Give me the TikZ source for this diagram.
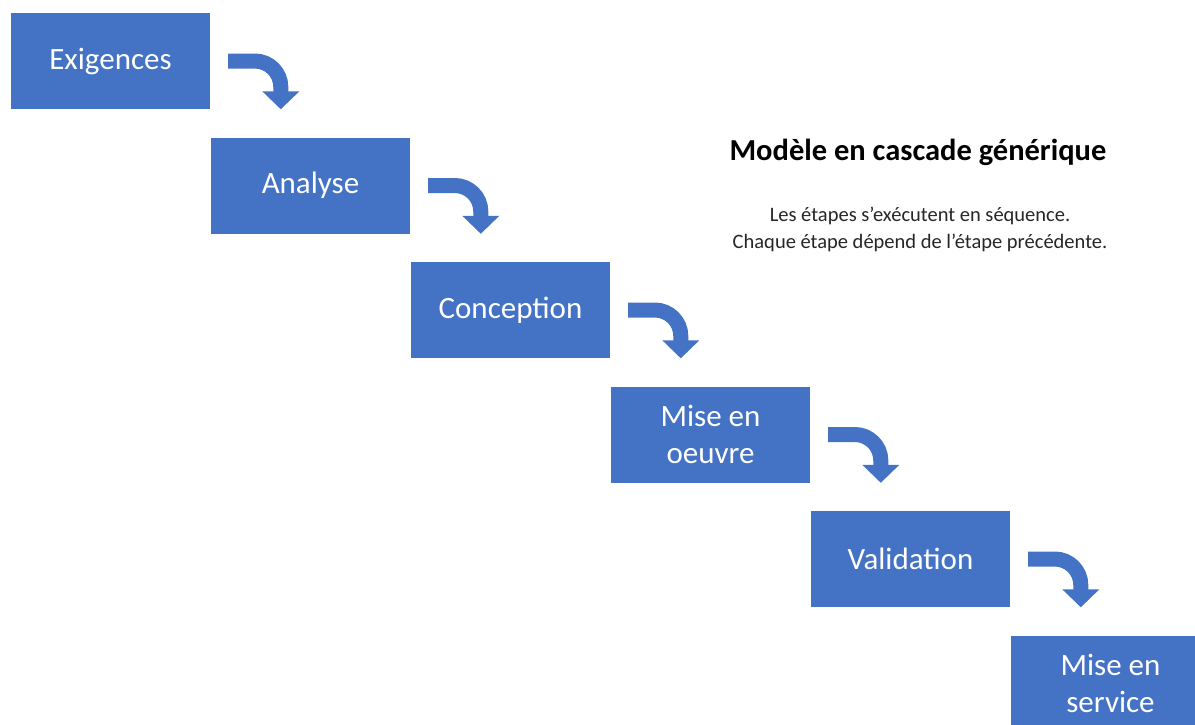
\documentclass[tikz,border=0pt]{standalone}
\usepackage{fontspec}
\setmainfont{Carlito}
\usetikzlibrary{arrows.meta}

\definecolor{stageblue}{HTML}{4472C4}
\tikzset{
  stage/.style={fill=stageblue,draw=none,minimum width=199,minimum height=96,inner sep=0pt,
    text=white,align=center,font=\fontsize{31}{37}\selectfont},
  flow/.style={draw=stageblue,line width=15pt,rounded corners=26pt,
    -{Triangle[width=36pt,length=18pt]}}
}

\begin{document}
\begin{tikzpicture}[x=1pt,y=-1pt]
\useasboundingbox (0,0) rectangle (1195,724);
\node[stage] (exig) at (110.5,61) {Exigences};
\node[stage] (anal) at (310.5,185.5) {Analyse};
\node[stage] (conc) at (510.5,310) {Conception};
\node[stage] (oeuv) at (710.5,434.5) {Mise en\\oeuvre};
\node[stage] (vali) at (910.5,559) {Validation};
\node[stage] (serv) at (1110.5,683.5) {Mise en\\service};
\draw[flow] ([xshift=18]exig.east) -| ([xshift=70,yshift=28]anal.north west);
\draw[flow] ([xshift=18]anal.east) -| ([xshift=70,yshift=28]conc.north west);
\draw[flow] ([xshift=18]conc.east) -| ([xshift=70,yshift=28]oeuv.north west);
\draw[flow] ([xshift=18]oeuv.east) -| ([xshift=70,yshift=28]vali.north west);
\draw[flow] ([xshift=18]vali.east) -| ([xshift=70,yshift=28]serv.north west);
\node[font=\bfseries\fontsize{30.5}{36}\selectfont] (titre) at (918,152) {Modèle en cascade générique};
\node[align=center,text=black!85,font=\fontsize{20.5}{27}\selectfont] (desc) at (920,229)
  {Les étapes s’exécutent en séquence.\\Chaque étape dépend de l’étape précédente.};
\end{tikzpicture}
\end{document}
